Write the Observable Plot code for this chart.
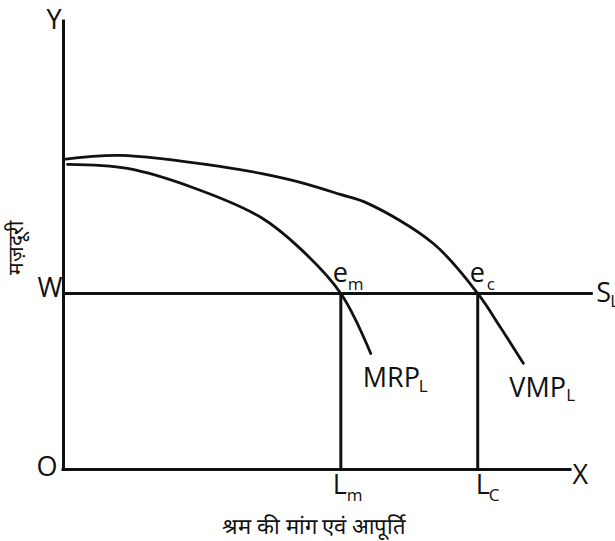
<!DOCTYPE html>
<html><head><meta charset="utf-8">
<script src="https://cdn.jsdelivr.net/npm/d3@7"></script>
<script src="https://cdn.jsdelivr.net/npm/@observablehq/plot@0.6"></script>
<style>html,body{margin:0;padding:0;background:#fff}</style>
</head><body><div id="chart"></div>
<script>
// VMP_L curve (labour on x, wage on y)
const vmpX = [0, 11.2, 32.3, 38.9, 46.7, 54.6, 60.0, 73.0, 81.7, 86.2, 90.7];
const vmpY = [69.2, 70.1, 67.4, 66.1, 64.1, 61.4, 59.4, 50.4, 39.3, 31.7, 23.7];
// MRP_L curve
const mrpX = [0.8, 12.6, 25.6, 38.9, 46.7, 54.7, 60.6];
const mrpY = [68.1, 67.2, 62.9, 56.3, 49.3, 39.3, 25.9];
// wage level W and employment levels
const wage = 39.3;
const Lm = 54.7, Lc = 81.7;
const xMax = 100, yMax = 100, supplyEnd = 104.5;
// texts
const xTitle = "श्रम की मांग एवं आपूर्ति";
const yTitle = "मज़दूरी";

const vmp = vmpX.map((x, i) => ({x, y: vmpY[i]}));
const mrp = mrpX.map((x, i) => ({x, y: mrpY[i]}));

const FS = 27, SUB = 17;
function lab(text, x, y, dx, dy, size) {
  return Plot.text([{x, y}], {x: "x", y: "y", text: () => text, dx, dy,
    textAnchor: "start", lineAnchor: "bottom", fontSize: size, fill: "#111"});
}
const axisStyle = {stroke: "#111", strokeWidth: 3, strokeLinecap: "square"};

const chart = Plot.plot({
  width: 615, height: 541,
  marginTop: 0, marginRight: 0, marginBottom: 0, marginLeft: 0,
  x: {domain: [0, xMax], range: [63, 570], axis: null},
  y: {domain: [0, yMax], range: [469, 21], axis: null},
  style: {fontFamily: "'Open Sans', sans-serif", background: "#fff"},
  marks: [
    Plot.ruleX([{x: 0, y1: 0, y2: yMax}], {x: "x", y1: "y1", y2: "y2", ...axisStyle}),
    Plot.ruleY([{y: 0, x1: 0, x2: xMax}], {y: "y", x1: "x1", x2: "x2", ...axisStyle}),
    Plot.ruleY([{y: wage, x1: 0, x2: supplyEnd}], {y: "y", x1: "x1", x2: "x2", stroke: "#111", strokeWidth: 3}),
    Plot.ruleX([{x: Lm}, {x: Lc}], {x: "x", y1: 0, y2: wage, stroke: "#111", strokeWidth: 3}),
    Plot.line(vmp, {x: "x", y: "y", curve: "catmull-rom", stroke: "#111", strokeWidth: 2.8}),
    Plot.line(mrp, {x: "x", y: "y", curve: "catmull-rom", stroke: "#111", strokeWidth: 2.8}),
    // axis letters
    lab("Y", 0, yMax, -17, 7, FS),
    lab("O", 0, 0, -27, 6, FS),
    lab("X", xMax, 0, 2, 14, FS),
    Plot.text([{x: 0, y: wage}], {x: "x", y: "y", text: () => "W", dx: -1, dy: 4, textAnchor: "end", lineAnchor: "bottom", fontSize: FS, fill: "#111"}),
    // equilibrium points
    lab("e", Lm, wage, -8, -11, FS), lab("m", Lm, wage, 7, -3, SUB),
    lab("e", Lc, wage, -8, -11, FS), lab("c", Lc, wage, 9, -3, SUB),
    // curve labels
    lab("MRP", mrpX[mrpX.length - 1], mrpY[mrpY.length - 1], -8, 34, FS),
    lab("L", mrpX[mrpX.length - 1], mrpY[mrpY.length - 1], 48, 39, SUB),
    lab("VMP", vmpX[vmpX.length - 1], vmpY[vmpY.length - 1], -14, 34, FS),
    lab("L", vmpX[vmpX.length - 1], vmpY[vmpY.length - 1], 43, 38, SUB),
    lab("S", supplyEnd, wage, 3, 9, FS), lab("L", supplyEnd, wage, 17, 14, SUB),
    // employment labels
    lab("L", Lm, 0, -8, 24, FS), lab("m", Lm, 0, 6, 31, SUB),
    lab("L", Lc, 0, -2, 24, FS), lab("C", Lc, 0, 11, 31, SUB),
    // titles
    Plot.text([xTitle], {frameAnchor: "bottom", text: d => d, dx: 6, dy: -8, lineAnchor: "bottom", fontSize: 22, fill: "#111"}),
    Plot.text([yTitle], {frameAnchor: "left", text: d => d, rotate: -90, dx: 16, dy: 4, fontSize: 21, fill: "#111"})
  ]
});
document.getElementById("chart").appendChild(chart);
</script>
</body></html>
